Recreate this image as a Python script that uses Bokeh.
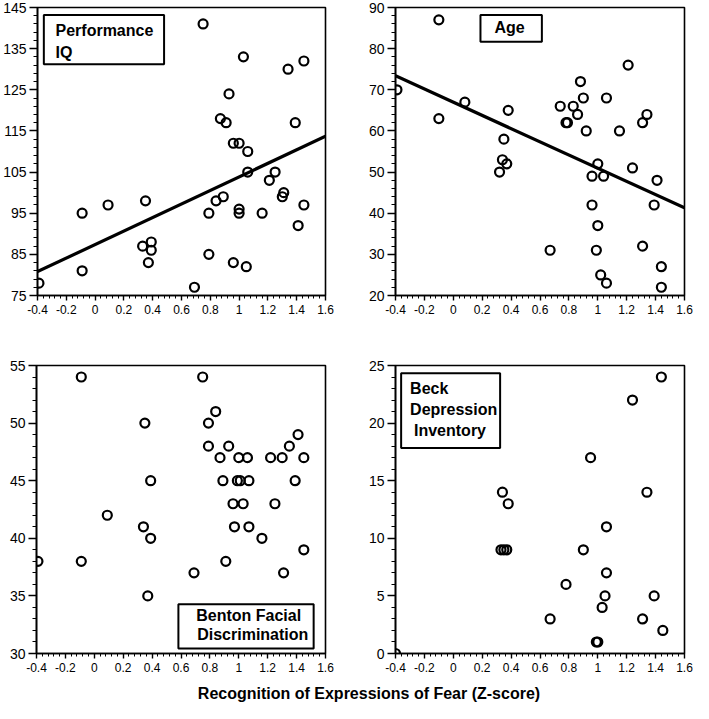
from bokeh.plotting import figure
from bokeh.models import Range1d, FixedTicker
from bokeh.layouts import column, row
from bokeh.embed import file_html
from bokeh.resources import INLINE
from bokeh.core.properties import value
import numpy as np

# ---------------- data ----------------
x_ticks = [-0.4, -0.2, 0, 0.2, 0.4, 0.6, 0.8, 1, 1.2, 1.4, 1.6]
x_tick_labels = ["-0.4", "-0.2", "0", "0.2", "0.4", "0.6", "0.8", "1", "1.2", "1.4", "1.6"]

iq_x = [-0.39, -0.09, -0.09, 0.09, 0.35, 0.33, 0.37, 0.39, 0.39, 0.69, 0.75, 0.79, 0.79,
        0.84, 0.87, 0.89, 0.91, 0.93, 0.96, 0.96, 1.00, 1.00, 1.00, 1.03, 1.05, 1.06, 1.06,
        1.16, 1.21, 1.25, 1.30, 1.31, 1.34, 1.39, 1.41, 1.45, 1.45]
iq_y = [78, 95, 81, 97, 98, 87, 83, 88, 86, 77, 141, 95, 85,
        98, 118, 99, 117, 124, 83, 112, 112, 96, 95, 133, 82, 110, 105,
        95, 103, 105, 99, 100, 130, 117, 92, 132, 97]
iq_fit_x = [-0.4, 1.6]
iq_fit_y = [80.8, 113.7]
iq_ticks = [75, 85, 95, 105, 115, 125, 135, 145]

age_x = [-0.39, -0.10, -0.10, 0.08, 0.38, 0.35, 0.34, 0.37, 0.32, 0.67, 0.74, 0.78, 0.79,
         0.83, 0.86, 0.88, 0.90, 0.92, 0.96, 0.96, 1.00, 1.00, 0.99, 1.02, 1.06, 1.04, 1.06,
         1.15, 1.21, 1.24, 1.31, 1.31, 1.34, 1.39, 1.41, 1.44, 1.44]
age_y = [70, 87, 63, 67, 65, 58, 53, 52, 50, 31, 66, 62, 62,
         66, 64, 72, 68, 60, 49, 42, 52, 37, 31, 25, 23, 49, 68,
         60, 76, 51, 32, 62, 64, 42, 48, 27, 22]
age_fit_x = [-0.4, 1.6]
age_fit_y = [73.4, 41.3]
age_ticks = [20, 30, 40, 50, 60, 70, 80, 90]

benton_x = [-0.39, -0.09, -0.09, 0.09, 0.35, 0.34, 0.39, 0.39, 0.37, 0.69, 0.75, 0.79, 0.79,
            0.84, 0.87, 0.89, 0.91, 0.93, 0.96, 0.97, 1.00, 0.99, 1.01, 1.03, 1.06, 1.07, 1.07,
            1.16, 1.22, 1.25, 1.30, 1.31, 1.35, 1.39, 1.41, 1.45, 1.45]
benton_y = [38, 54, 38, 42, 50, 41, 45, 40, 35, 37, 54, 50, 48,
            51, 47, 45, 38, 48, 43, 41, 47, 45, 45, 43, 47, 45, 41,
            40, 47, 43, 47, 37, 48, 45, 49, 47, 39]
benton_ticks = [30, 35, 40, 45, 50, 55]

beck_x = [-0.40, 0.33, 0.35, 0.37, 0.34, 0.38, 0.67, 0.78, 0.90, 0.95, 0.99, 1.00,
          1.03, 1.05, 1.06, 1.06, 1.24, 1.31, 1.34, 1.39, 1.44, 1.45]
beck_y = [0, 9, 9, 9, 14, 13, 3, 6, 9, 17, 1, 1,
          4, 5, 7, 11, 22, 3, 14, 5, 24, 2]
beck_ticks = [0, 5, 10, 15, 20, 25]

x_title = "Recognition of Expressions of Fear (Z-score)"

# ---------------- styling helpers ----------------
FONT = "Liberation Sans"


def make_panel(width, height, left, right, top, bottom, y_ticks, y_minor_step):
    p = figure(width=width, height=height, output_backend="svg", toolbar_location=None,
               x_range=Range1d(-0.4, 1.6), y_range=Range1d(y_ticks[0], y_ticks[-1]),
               min_border_left=left, min_border_right=right,
               min_border_top=top, min_border_bottom=bottom)
    p.background_fill_color = "white"
    p.border_fill_color = "white"
    p.outline_line_color = "black"
    p.outline_line_width = 1.6
    p.outline_line_alpha = 1.0
    p.xgrid.visible = False
    p.ygrid.visible = False

    x_minor = [round(v, 2) for v in np.arange(-0.4, 1.6001, 0.04)]
    p.xaxis.ticker = FixedTicker(ticks=x_ticks, minor_ticks=x_minor)
    p.xaxis.major_label_overrides = {t: l for t, l in zip(x_ticks, x_tick_labels)}
    y_minor = [round(v, 3) for v in np.arange(y_ticks[0], y_ticks[-1] + 1e-6, y_minor_step)]
    p.yaxis.ticker = FixedTicker(ticks=y_ticks, minor_ticks=y_minor)

    for ax in (p.xaxis, p.yaxis):
        ax.axis_line_color = "black"
        ax.axis_line_width = 1.6
        ax.major_tick_line_color = "black"
        ax.major_tick_line_width = 1.4
        ax.minor_tick_line_color = "black"
        ax.minor_tick_line_width = 1.0
        ax.major_tick_in = 0
        ax.minor_tick_in = 0
        ax.major_label_text_font = FONT
        ax.major_label_text_color = "black"
    p.xaxis.major_tick_out = 5
    p.xaxis.minor_tick_out = 3
    p.xaxis.major_label_text_font_size = "12px"
    p.xaxis.major_label_standoff = 4
    p.yaxis.major_tick_out = 8
    p.yaxis.minor_tick_out = 4
    p.yaxis.major_label_text_font_size = "14px"
    p.yaxis.major_label_standoff = 3
    return p


def dots(p, xs, ys):
    p.scatter(xs, ys, marker="circle", size=9, fill_color=None,
              line_color="black", line_width=2.2)


def label_box(p, left, right, bottom, top, lines):
    p.quad(left=[left], right=[right], bottom=[bottom], top=[top],
           fill_color=None, line_color="black", line_width=2)
    for (tx, ty, t, align) in lines:
        p.text(x=[tx], y=[ty], text=[t], text_font=value(FONT), text_font_style="bold",
               text_font_size="16px", text_color="black",
               text_baseline="middle", text_align=align)


W1, W2 = 355, 338
H1, H2 = 330, 353

# Panel 1: Performance IQ
p1 = make_panel(W1, H1, 36, 30, 7, 35, iq_ticks, 2)
p1.line(iq_fit_x, iq_fit_y, line_color="black", line_width=3.2)
dots(p1, iq_x, iq_y)
label_box(p1, -0.356, 0.479, 131.2, 143.2,
          [(-0.275, 139.4, "Performance", "left"), (-0.275, 134.1, "IQ", "left")])

# Panel 2: Age
p2 = make_panel(W2, H1, 40, 9, 7, 35, age_ticks, 2)
p2.line(age_fit_x, age_fit_y, line_color="black", line_width=3.2)
dots(p2, age_x, age_y)
label_box(p2, 0.188, 0.613, 81.7, 88.2, [(0.39, 85.2, "Age", "center")])

# Panel 3: Benton Facial Discrimination
p3 = make_panel(W1, H2, 36, 30, 35, 30, benton_ticks, 1)
dots(p3, benton_x, benton_y)
label_box(p3, 0.582, 1.518, 30.43, 34.27,
          [(0.705, 33.33, "Benton Facial", "left"), (0.712, 31.62, "Discrimination", "left")])

# Panel 4: Beck Depression Inventory
p4 = make_panel(W2, H2, 40, 9, 35, 30, beck_ticks, 1)
dots(p4, beck_x, beck_y)
label_box(p4, -0.361, 0.324, 17.83, 24.32,
          [(-0.299, 23.04, "Beck", "left"), (-0.299, 21.16, "Depression", "left"),
           (-0.272, 19.37, "Inventory", "left")])

# Shared x-axis title
p5 = figure(width=W1 + W2, height=20, output_backend="svg", toolbar_location=None,
            x_range=Range1d(0, W1 + W2), y_range=Range1d(0, 1),
            x_axis_type=None, y_axis_type=None, min_border=0)
p5.outline_line_color = None
p5.xgrid.visible = False
p5.ygrid.visible = False
p5.text(x=[368.5], y=[0.5], text=[x_title], text_font=value(FONT), text_font_style="bold",
        text_font_size="16px", text_color="black", text_align="center", text_baseline="middle")

layout = column(row(p1, p2), row(p3, p4), p5)

open("out.html", "w").write(file_html(layout, INLINE))
